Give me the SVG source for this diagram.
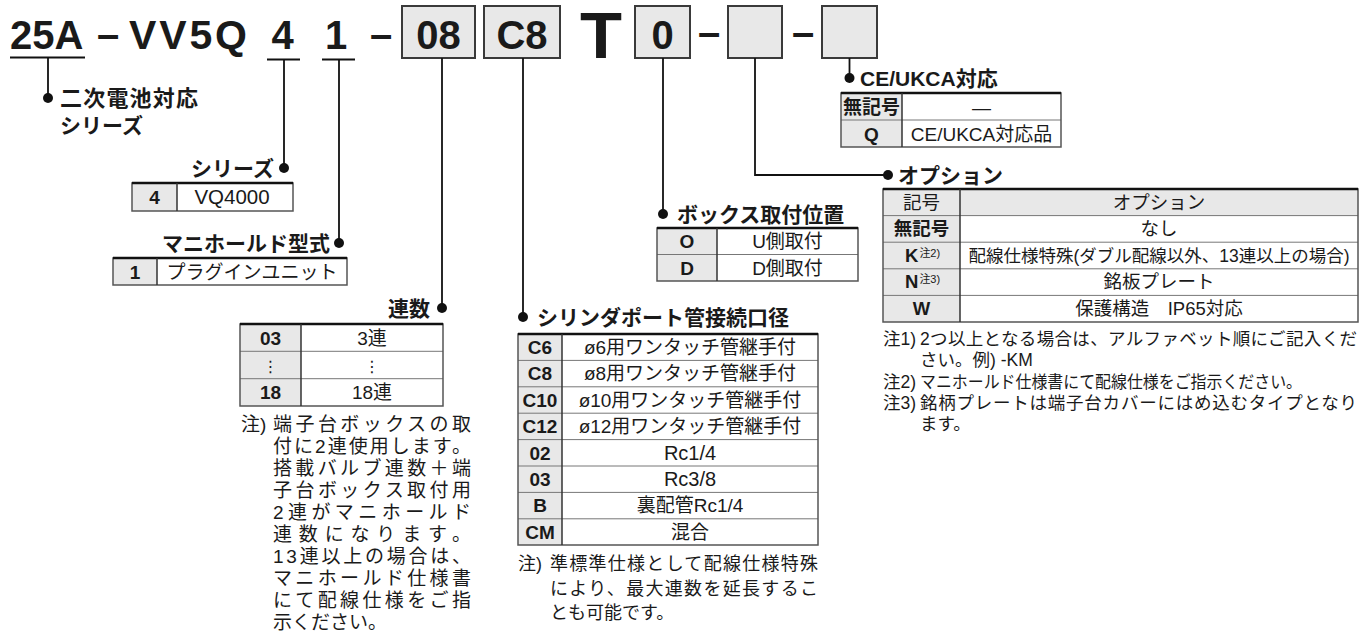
<svg xmlns="http://www.w3.org/2000/svg" width="1372" height="635" viewBox="0 0 1372 635">
<style>
text{font-family:"Liberation Sans","Noto Sans CJK JP",sans-serif;fill:#1a1a1a}
.code{font-size:40px;font-weight:bold}
.mid{text-anchor:middle}
.big{font-size:64px;font-weight:bold}
.hd{font-size:21px;font-weight:bold}
.tb{font-size:19px;text-anchor:middle}
.tbb{font-size:19px;font-weight:bold;text-anchor:middle}
.ot{font-size:17.5px;text-anchor:middle}
.otb{font-size:17.5px;font-weight:bold}
.sup{font-size:11px;font-weight:normal}
.nt{font-size:18px}
.nt2{font-size:17.5px}
.box{fill:#e8e8e8;stroke:#3a3a3a;stroke-width:2}
.cell{fill:#e8e8e8}
.frame{fill:none;stroke:#555;stroke-width:1.5}
.top{stroke:#111;stroke-width:2.5}
.rl{stroke:#777;stroke-width:1}
.dv{stroke:#333;stroke-width:1.5}
.ln{stroke:#111;stroke-width:1.8;fill:none}
.dot{fill:#111}
</style>

<g id="code">
<text class="code" x="10" y="49">25A</text>
<text class="code" x="97" y="48">–</text>
<text class="code" x="129" y="49" style="font-size:41px" textLength="118" lengthAdjust="spacing">VV5Q</text>
<text class="code mid" x="282.5" y="49">4</text>
<text class="code mid" x="336" y="49">1</text>
<text class="code" x="370" y="48">–</text>
<rect class="box" x="402" y="6" width="73" height="52"/>
<text class="code mid" x="438.5" y="49">08</text>
<rect class="box" x="484" y="6" width="76" height="52"/>
<text class="code mid" x="522" y="49">C8</text>
<text class="big mid" x="601" y="58" textLength="42" lengthAdjust="spacingAndGlyphs">T</text>
<rect class="box" x="635" y="6" width="55" height="52"/>
<text class="code mid" x="662.5" y="49">0</text>
<text class="code" x="698" y="46">–</text>
<rect class="box" x="728" y="6" width="54" height="52"/>
<text class="code" x="792" y="46">–</text>
<rect class="box" x="822" y="6" width="55" height="52"/>
</g>

<g id="connectors">
<path class="ln" d="M10 57.5H85M48 57.5V98"/>
<path class="ln" d="M267 59.5H300M284 59.5V168"/>
<path class="ln" d="M322 59.5H355M339 59.5V243"/>
<path class="ln" d="M442 58V308"/>
<path class="ln" d="M523 58V317"/>
<path class="ln" d="M663 58V214"/>
<path class="ln" d="M755 58V175H888"/>
<path class="ln" d="M849.5 58V78"/>
<circle class="dot" cx="48" cy="98" r="5"/>
<circle class="dot" cx="284" cy="168" r="5"/>
<circle class="dot" cx="339" cy="243" r="5"/>
<circle class="dot" cx="442" cy="308" r="5"/>
<circle class="dot" cx="523" cy="317" r="5"/>
<circle class="dot" cx="663" cy="214" r="5"/>
<circle class="dot" cx="888" cy="175" r="5"/>
<circle class="dot" cx="849.5" cy="78" r="5"/>
</g>

<g id="battery">
<text class="hd" x="60" y="106" style="font-size:22px" textLength="138" lengthAdjust="spacing">二次電池対応</text>
<text class="hd" x="60" y="133">シリーズ</text>
</g>

<g id="series">
<text class="hd" x="274" y="176" text-anchor="end">シリーズ</text>
<rect class="cell" x="132" y="183" width="45" height="28"/>
<rect class="frame" x="132" y="183" width="161" height="28"/>
<line class="top" x1="132" y1="183" x2="293" y2="183"/>
<line class="dv" x1="177" y1="183" x2="177" y2="211"/>
<text class="tbb" x="154.5" y="204">4</text>
<text class="tb" x="232" y="204" style="font-size:20.5px">VQ4000</text>
</g>

<g id="manifold">
<text class="hd" x="330" y="251" text-anchor="end">マニホールド型式</text>
<rect class="cell" x="113" y="258" width="44" height="27"/>
<rect class="frame" x="113" y="258" width="234" height="27"/>
<line class="top" x1="113" y1="258" x2="347" y2="258"/>
<line class="dv" x1="157" y1="258" x2="157" y2="285"/>
<text class="tbb" x="135" y="278.5">1</text>
<text class="tb" x="252" y="278.5">プラグインユニット</text>
</g>

<g id="stations">
<text class="hd" x="430" y="316" text-anchor="end">連数</text>
<rect class="cell" x="240" y="324" width="61" height="82"/>
<line class="rl" x1="240" y1="351.3" x2="443" y2="351.3"/>
<line class="rl" x1="240" y1="378.7" x2="443" y2="378.7"/>
<rect class="frame" x="240" y="324" width="203" height="82"/>
<line class="top" x1="240" y1="324" x2="443" y2="324"/>
<line class="dv" x1="301" y1="324" x2="301" y2="406"/>
<text class="tbb" x="270.5" y="344.7">03</text>
<text class="tb" x="372" y="344.7">3連</text>
<text class="tb" x="270.5" y="372" style="font-family:'DejaVu Sans',sans-serif;font-size:16px">⋮</text>
<text class="tb" x="372" y="372" style="font-family:'DejaVu Sans',sans-serif;font-size:16px">⋮</text>
<text class="tbb" x="270.5" y="399.4">18</text>
<text class="tb" x="372" y="399.4">18連</text>
<text class="nt" x="241" y="431" style="font-size:19px">注)</text>
<text class="nt" x="273" y="431" style="font-size:19px" textLength="198" lengthAdjust="spacing">端子台ボックスの取</text>
<text class="nt" x="273" y="453" style="font-size:19px" textLength="198" lengthAdjust="spacing">付に2連使用します。</text>
<text class="nt" x="273" y="475" style="font-size:19px" textLength="198" lengthAdjust="spacing">搭載バルブ連数＋端</text>
<text class="nt" x="273" y="497" style="font-size:19px" textLength="198" lengthAdjust="spacing">子台ボックス取付用</text>
<text class="nt" x="273" y="519" style="font-size:19px" textLength="198" lengthAdjust="spacing">2連がマニホールド</text>
<text class="nt" x="273" y="541" style="font-size:19px" textLength="198" lengthAdjust="spacing">連数になります。</text>
<text class="nt" x="273" y="563" style="font-size:19px" textLength="198" lengthAdjust="spacing">13連以上の場合は、</text>
<text class="nt" x="273" y="585" style="font-size:19px" textLength="198" lengthAdjust="spacing">マニホールド仕様書</text>
<text class="nt" x="273" y="607" style="font-size:19px" textLength="198" lengthAdjust="spacing">にて配線仕様をご指</text>
<text class="nt" x="273" y="629" style="font-size:19px">示ください。</text>
</g>

<g id="box-position">
<text class="hd" x="677" y="222">ボックス取付位置</text>
<rect class="cell" x="657" y="228" width="60" height="53"/>
<line class="rl" x1="657" y1="254.5" x2="858" y2="254.5"/>
<rect class="frame" x="657" y="228" width="201" height="53"/>
<line class="top" x1="657" y1="228" x2="858" y2="228"/>
<line class="dv" x1="717" y1="228" x2="717" y2="281"/>
<text class="tbb" x="687" y="248">O</text>
<text class="tb" x="787.5" y="248">U側取付</text>
<text class="tbb" x="687" y="274.5">D</text>
<text class="tb" x="787.5" y="274.5">D側取付</text>
</g>

<g id="cylinder-port">
<text class="hd" x="537" y="325">シリンダポート管接続口径</text>
<rect class="cell" x="518" y="334" width="44" height="211"/>
<line class="rl" x1="518" y1="360.4" x2="818" y2="360.4"/>
<line class="rl" x1="518" y1="386.8" x2="818" y2="386.8"/>
<line class="rl" x1="518" y1="413.2" x2="818" y2="413.2"/>
<line class="rl" x1="518" y1="439.6" x2="818" y2="439.6"/>
<line class="rl" x1="518" y1="466" x2="818" y2="466"/>
<line class="rl" x1="518" y1="492.4" x2="818" y2="492.4"/>
<line class="rl" x1="518" y1="518.8" x2="818" y2="518.8"/>
<rect class="frame" x="518" y="334" width="300" height="211"/>
<line class="top" x1="518" y1="334" x2="818" y2="334"/>
<line class="dv" x1="562" y1="334" x2="562" y2="545"/>
<text class="tbb" x="540" y="354">C6</text>
<text class="tb" x="690" y="354">ø6用ワンタッチ管継手付</text>
<text class="tbb" x="540" y="380.4">C8</text>
<text class="tb" x="690" y="380.4">ø8用ワンタッチ管継手付</text>
<text class="tbb" x="540" y="406.8">C10</text>
<text class="tb" x="690" y="406.8">ø10用ワンタッチ管継手付</text>
<text class="tbb" x="540" y="433.2">C12</text>
<text class="tb" x="690" y="433.2">ø12用ワンタッチ管継手付</text>
<text class="tbb" x="540" y="459.6">02</text>
<text class="tb" x="690" y="459.6" style="font-size:20px">Rc1/4</text>
<text class="tbb" x="540" y="486">03</text>
<text class="tb" x="690" y="486" style="font-size:20px">Rc3/8</text>
<text class="tbb" x="540" y="512.4">B</text>
<text class="tb" x="690" y="512.4">裏配管Rc1/4</text>
<text class="tbb" x="540" y="538.8">CM</text>
<text class="tb" x="690" y="538.8">混合</text>
<text class="nt" x="518" y="570">注)</text>
<text class="nt" x="550" y="570" textLength="268" lengthAdjust="spacing">準標準仕様として配線仕様特殊</text>
<text class="nt" x="550" y="595" textLength="268" lengthAdjust="spacing">により、最大連数を延長するこ</text>
<text class="nt" x="550" y="619">とも可能です。</text>
</g>

<g id="ce-ukca">
<text class="hd" x="860" y="86">CE/UKCA対応</text>
<rect class="cell" x="841" y="93" width="61" height="54"/>
<line class="rl" x1="841" y1="120" x2="1061" y2="120"/>
<rect class="frame" x="841" y="93" width="220" height="54"/>
<line class="top" x1="841" y1="93" x2="1061" y2="93"/>
<line class="dv" x1="902" y1="93" x2="902" y2="147"/>
<text class="tbb" x="871.5" y="113.5">無記号</text>
<text class="tb" x="981.5" y="113.5">—</text>
<text class="tbb" x="871.5" y="140.5">Q</text>
<text class="tb" x="981.5" y="140.5">CE/UKCA対応品</text>
</g>

<g id="option">
<text class="hd" x="898" y="183">オプション</text>
<rect class="cell" x="883" y="189" width="475" height="26.6"/>
<rect class="cell" x="883" y="189" width="77" height="133"/>
<line class="rl" x1="883" y1="215.6" x2="1358" y2="215.6"/>
<line class="rl" x1="883" y1="242.2" x2="1358" y2="242.2"/>
<line class="rl" x1="883" y1="268.8" x2="1358" y2="268.8"/>
<line class="rl" x1="883" y1="295.4" x2="1358" y2="295.4"/>
<rect class="frame" x="883" y="189" width="475" height="133"/>
<line class="top" x1="883" y1="189" x2="1358" y2="189"/>
<line class="dv" x1="960" y1="189" x2="960" y2="322"/>
<text class="ot" x="921.5" y="208.5" style="font-size:18.5px">記号</text>
<text class="ot" x="1159" y="208.5" style="font-size:18.5px">オプション</text>
<text class="otb mid" x="921.5" y="235.1" style="font-size:18.5px">無記号</text>
<text class="ot" x="1159" y="235.1" style="font-size:18.5px">なし</text>
<text class="otb" x="905" y="261.7" style="font-size:18.5px">K<tspan class="sup" dx="1" dy="-5">注2)</tspan></text>
<text class="ot" x="1159" y="261.7">配線仕様特殊(ダブル配線以外、13連以上の場合)</text>
<text class="otb" x="905" y="288.3" style="font-size:18.5px">N<tspan class="sup" dx="1" dy="-5">注3)</tspan></text>
<text class="ot" x="1159" y="288.3" style="font-size:18.5px">銘板プレート</text>
<text class="otb mid" x="921.5" y="314.9" style="font-size:18.5px">W</text>
<text class="ot" x="1159" y="314.9" style="font-size:18.5px">保護構造　IP65対応</text>
<text class="nt2" x="883" y="345">注1)</text>
<text class="nt2" x="920" y="345" textLength="437" lengthAdjust="spacing">2つ以上となる場合は、アルファベット順にご記入くだ</text>
<text class="nt2" x="920" y="366">さい。例) -KM</text>
<text class="nt2" x="883" y="388">注2)</text>
<text class="nt2" x="920" y="388" textLength="382" lengthAdjust="spacingAndGlyphs">マニホールド仕様書にて配線仕様をご指示ください。</text>
<text class="nt2" x="883" y="409">注3)</text>
<text class="nt2" x="920" y="409" textLength="437" lengthAdjust="spacing">銘柄プレートは端子台カバーにはめ込むタイプとなり</text>
<text class="nt2" x="920" y="430">ます。</text>
</g>
</svg>
